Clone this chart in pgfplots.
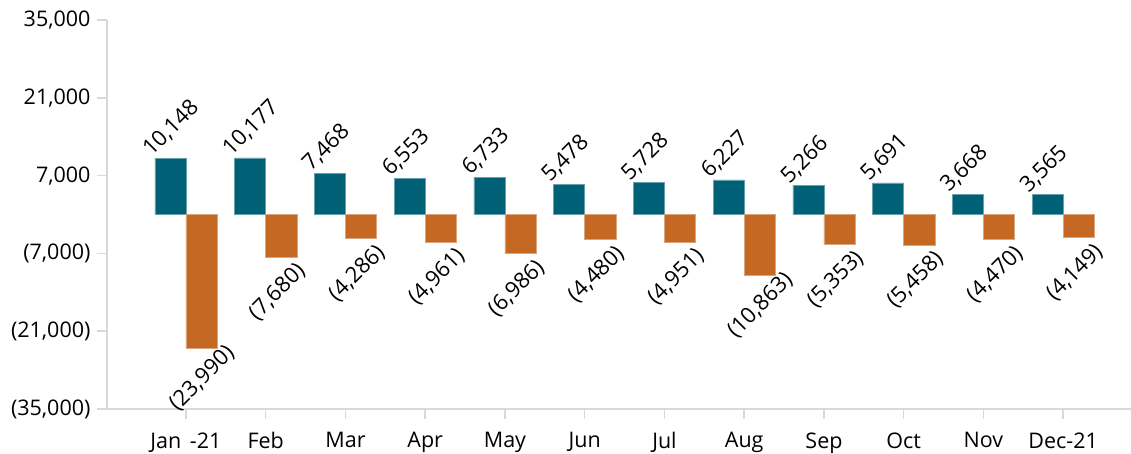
\documentclass[border=0pt]{standalone}
\usepackage{pgfplots}
\pgfplotsset{compat=1.18}
\usepackage{pgfplotstable}
\usepackage{fontspec}
\setmainfont{Open Sans}
\definecolor{tealbar}{HTML}{006076}
\definecolor{orangebar}{HTML}{C46824}
\definecolor{axgray}{HTML}{D9D9D9}
\pgfplotstableread{
x pos poslab neg neglab
0 10148 10,148 -23990 (23,990)
1 10177 10,177 -7680 (7,680)
2 7468 7,468 -4286 (4,286)
3 6553 6,553 -4961 (4,961)
4 6733 6,733 -6986 (6,986)
5 5478 5,478 -4480 (4,480)
6 5728 5,728 -4951 (4,951)
7 6227 6,227 -10863 (10,863)
8 5266 5,266 -5353 (5,353)
9 5691 5,691 -5458 (5,458)
10 3668 3,668 -4470 (4,470)
11 3565 3,565 -4149 (4,149)
}\datatable
\begin{document}
\begin{tikzpicture}
\begin{axis}[
  scale only axis,
  width=1024bp, height=389bp,
  xmin=-0.99, xmax=11.85,
  ymin=-35000, ymax=35000,
  scaled y ticks=false,
  axis lines*=left,
  axis line style={axgray, line width=1.5bp, -},
  ybar,
  bar width=0.39,
  xtick={0,...,11},
  xticklabels={Jan\hspace{3bp} -21,Feb,Mar,Apr,May,Jun,Jul,Aug,Sep,Oct,Nov,Dec-21},
  ytick={-35000,-21000,-7000,7000,21000,35000},
  yticklabels={{(35,000)},{(21,000)},{(7,000)},{7,000},{21,000},{35,000}},
  tick style={axgray, line width=1.5bp},
  major tick length=10bp,
  xtick pos=bottom, ytick pos=left,
  tick align=outside,
  tick label style={font=\fontsize{21.5bp}{24bp}\selectfont, text=black},
  xticklabel style={yshift=-10bp},
  yticklabel style={xshift=-3bp},
  point meta=explicit symbolic,
  nodes near coords,
  clip=false,
]
\addplot[fill=tealbar, draw=tealbar!60!white, line width=0.5bp, bar shift=-0.195,
  nodes near coords style={xshift=-19bp, yshift=1bp, rotate=45, anchor=base west, inner sep=0pt, font=\fontsize{22bp}{24bp}\selectfont, text=black}]
  table[x=x, y=pos, meta=poslab] {\datatable};
\addplot[fill=orangebar, draw=orangebar!60!white, line width=0.5bp, bar shift=0.195,
  nodes near coords style={xshift=-24bp, yshift=-64bp, rotate=45, anchor=base west, inner sep=0pt, font=\fontsize{22bp}{24bp}\selectfont, text=black}]
  table[x=x, y=neg, meta=neglab] {\datatable};
\end{axis}
\pgfresetboundingbox
\path (-107bp,-45bp) rectangle (1024bp,409bp);
\end{tikzpicture}
\end{document}
